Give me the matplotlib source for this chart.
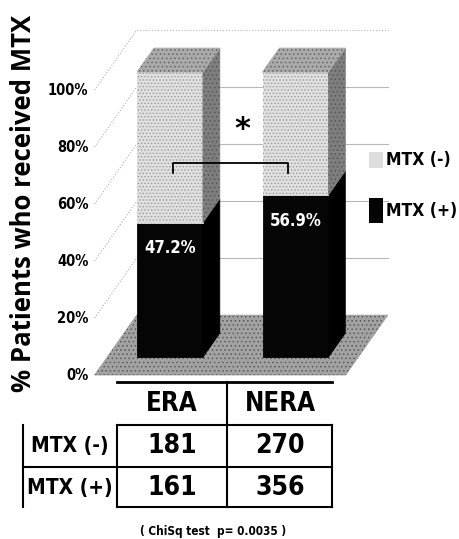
import matplotlib.pyplot as plt
from matplotlib import font_manager
from matplotlib import patheffects
from matplotlib.font_manager import FontProperties
from matplotlib.patches import Polygon, Rectangle
from matplotlib.lines import Line2D

groups = ['ERA', 'NERA']
mtx_pos = [47.2, 56.9]          # % of patients who received MTX
mtx_neg = [52.8, 43.1]          # remainder, stacked on top
row_labels = ['MTX (-)', 'MTX (+)']
counts_neg = [181, 270]
counts_pos = [161, 356]
yticks = [0, 20, 40, 60, 80, 100]
note = '( ChiSq test  p= 0.0035 )'

W, H = 459, 539


def weight_of(f):
    w = f.weight
    return w if isinstance(w, int) else font_manager.weight_dict.get(w, 400)


def is_narrow(f):
    return (any(k in f.name for k in ('Narrow', 'Condensed', 'Cond'))
            or f.stretch in ('condensed', 'semi-condensed', 'extra-condensed'))


def is_upright(f):
    s = (f.fname + ' ' + f.style).lower()
    return 'italic' not in s and 'oblique' not in s


# narrow upright face; thicken it with a stroke when no bold cut exists
fonts = [f for f in font_manager.fontManager.ttflist if is_narrow(f) and is_upright(f)]
lib = [f for f in fonts if f.name == 'Liberation Sans Narrow']
lib_bold = [f for f in lib if weight_of(f) >= 600]
other_bold = [f for f in fonts if weight_of(f) >= 600]
if lib_bold:
    narrow_file, fake_bold = lib_bold[0].fname, False
elif lib:
    narrow_file, fake_bold = lib[0].fname, True
elif other_bold:
    narrow_file, fake_bold = other_bold[0].fname, False
else:
    narrow_file, fake_bold = None, False


def nfont(color='black', stroke=1.0):
    if narrow_file:
        kw = dict(fontproperties=FontProperties(fname=narrow_file), color=color)
    else:
        kw = dict(family='DejaVu Sans', fontweight='bold', color=color)
    if fake_bold:
        kw['path_effects'] = [patheffects.withStroke(linewidth=stroke,
                                                     foreground=color)]
    return kw


fig = plt.figure(figsize=(W / 100, H / 100), dpi=100)
ax = fig.add_axes([0, 0, 1, 1])
ax.set_xlim(-1.254, 2.403)
ax.set_ylim(-57.54, 131.58)
ax.axis('off')
plt.rcParams['hatch.linewidth'] = 0.6

# oblique 3D look: one unit of depth shifts right and up
DX, DZ = 0.335, 21.0


def proj(pts):
    return [(x + d * DX, z + d * DZ) for x, d, z in pts]


def face(pts, color, z=2, hatch=None, dots='#8c8c8c'):
    ax.add_patch(Polygon(proj(pts), closed=True, facecolor=color,
                         edgecolor=color, lw=0.6, zorder=z))
    if hatch:
        ax.add_patch(Polygon(proj(pts), closed=True, facecolor='none',
                             edgecolor=dots, lw=0, hatch=hatch, zorder=z))


x0, x1 = -0.5, 1.5
# floor
face([(x0, 0, 0), (x1, 0, 0), (x1, 1, 0), (x0, 1, 0)], '#a2a2a2', z=1,
     hatch='....', dots='#5a5a5a')

# back wall gridlines and side-wall diagonals
for t in yticks:
    if t > 0:
        (a, b), (c, d) = proj([(x0, 1, t), (x1, 1, t)])
        ax.plot([a, c], [b, d], color='#b8b8b8', lw=0.8,
                ls=':' if t == 100 else '-', zorder=0.5)
        (a, b), (c, d) = proj([(x0, 0, t), (x0, 1, t)])
        ax.plot([a, c], [b, d], color='#b0b0b0', lw=0.8, ls=':', zorder=0.5)
    ax.text(-0.55, t, f'{t}%', ha='right', va='center', fontsize=10.5,
            **nfont(stroke=0.8))

# stacked 3D bars
w, d0, d1 = 0.525, 0.3, 0.7
for i, (lo, hi) in enumerate(zip(mtx_pos, mtx_neg)):
    l, r = i - w / 2, i + w / 2
    # dark MTX(+) segment
    face([(l, d0, 0), (r, d0, 0), (r, d0, lo), (l, d0, lo)], '#050505', z=3)
    face([(r, d0, 0), (r, d1, 0), (r, d1, lo), (r, d0, lo)], '#000000', z=3)
    # light MTX(-) segment on top
    top = lo + hi
    face([(l, d0, lo), (r, d0, lo), (r, d0, top), (l, d0, top)], '#e0e0e0',
         z=3, hatch='.....', dots='#9a9a9a')
    face([(r, d0, lo), (r, d1, lo), (r, d1, top), (r, d0, top)], '#7e7e7e',
         z=3, hatch='....', dots='#555555')
    face([(l, d0, top), (r, d0, top), (r, d1, top), (l, d1, top)], '#aaaaaa',
         z=3, hatch='....', dots='#666666')
    ax.text(i + d0 * DX, lo + d0 * DZ - 9, f'{lo:.1f}%', ha='center',
            va='center', fontsize=12, zorder=4, **nfont('white', 0.8))

# significance bracket
bx = [0.02 + d0 * DX, 0.94 + d0 * DX]
ax.plot([bx[0], bx[0], bx[1], bx[1]], [71, 74.5, 74.5, 71], color='black',
        lw=1.3, zorder=4)
ax.text(0.575 + d0 * DX, 86, '*', ha='center', va='center', fontsize=22,
        fontweight='bold', zorder=4)


def fx(px):
    return px / W


def fy(py):
    return 1 - py / H


# legend
for py0, py1, col, lab in [(152, 168, '#dedede', 'MTX (-)'),
                           (198, 223, '#050505', 'MTX (+)')]:
    fig.add_artist(Rectangle((fx(369), fy(py1)), fx(14), (py1 - py0) / H,
                             facecolor=col, edgecolor='none',
                             transform=fig.transFigure))
    fig.text(fx(386), fy((py0 + py1) / 2), lab, ha='left', va='center',
             fontsize=12.5, **nfont(stroke=1.0))

fig.text(fx(24), fy(203), '% Patients who received MTX', rotation=90,
         ha='center', va='center', fontsize=18.5,
         family=['Open Sans', 'DejaVu Sans'], fontweight='bold')


# count table under the bars
def hline(py, a, b, lw=1.5):
    fig.add_artist(Line2D([fx(a), fx(b)], [fy(py), fy(py)], color='black',
                          lw=lw, transform=fig.transFigure))


def vline(px, a, b, lw=1.5):
    fig.add_artist(Line2D([fx(px), fx(px)], [fy(a), fy(b)], color='black',
                          lw=lw, transform=fig.transFigure))


hline(382, 117, 332, lw=2)
hline(425, 117, 332)
hline(467, 23, 332)
hline(507, 117, 332)
vline(227, 382, 507)
vline(117, 425, 507)
vline(332, 425, 507)
vline(23, 425, 507)

col_x = [172, 280]
row_y = [446, 488]
for cx, g in zip(col_x, groups):
    fig.text(fx(cx), fy(404), g, ha='center', va='center', fontsize=18.5,
             **nfont(stroke=1.4))
for ry, lab, vals in zip(row_y, row_labels, [counts_neg, counts_pos]):
    fig.text(fx(70), fy(ry), lab, ha='center', va='center', fontsize=15,
             **nfont(stroke=1.2))
    for cx, v in zip(col_x, vals):
        fig.text(fx(cx), fy(ry), str(v), ha='center', va='center',
                 fontsize=19, **nfont(stroke=1.4))

fig.text(fx(213), fy(532), note, ha='center', va='center', fontsize=8.5,
         **nfont(stroke=0.5))

fig.savefig('out.png', dpi=100)
